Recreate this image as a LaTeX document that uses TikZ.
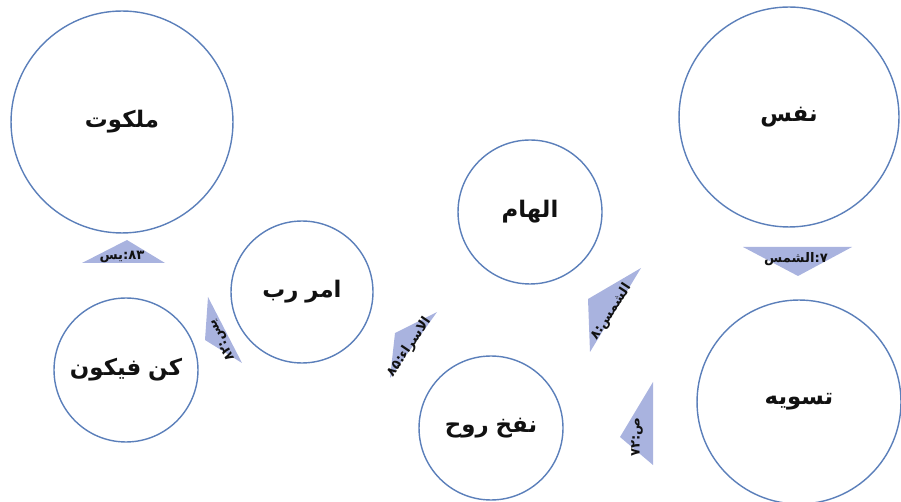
\documentclass[tikz,border=0pt]{standalone}
\usepackage{fontspec}
\newfontfamily\arabicfont[Script=Arabic]{DejaVu Sans}
\newfontfamily\digitfont{DejaVu Sans}
\TeXXeTstate=1
\usetikzlibrary{positioning}
\definecolor{ring}{HTML}{5B7FBA}
\definecolor{wedgeblue}{HTML}{A9B3DF}
\definecolor{textdark}{HTML}{111111}
\newcommand{\farsi}[1]{\hbox{\spaceskip=0.3em\relax\beginR #1\endR}}
\newcommand{\num}[1]{\hbox{\digitfont\bfseries #1}}

\begin{document}
\begin{tikzpicture}[x=0.02cm, y=-0.02cm,
    bubble/.style={circle, draw=ring, line width=0.8pt, minimum size=#1, inner sep=0pt,
      text=textdark, font=\arabicfont\bfseries\fontsize{13}{15}\selectfont},
    wedge/.style={fill=wedgeblue},
    tag/.style={inner sep=0pt, text=textdark, font=\arabicfont\bfseries\fontsize{7.5}{9}\selectfont}]
  \useasboundingbox (0,0) rectangle (901,502);
  % circles
  \node[bubble=4.44cm] (malakut) at (122,122) {\farsi{ملکوت}};
  \node[bubble=4.40cm] (nafs) at (789,117) {\farsi{نفس}};
  \node[bubble=2.88cm] (elham) at (530,212) {\farsi{الهام}};
  \node[bubble=2.84cm] (amr) at (302,292) {\farsi{امر رب}};
  \node[bubble=2.88cm] (kon) at (126,370) {\farsi{کن فیکون}};
  \node[bubble=2.88cm] (nafkh) at (491,428) {\farsi{نفخ روح}};
  \node[bubble=4.08cm] (taswiye) at (799,402) {\farsi{تسویه}};
  % wedges
  \fill[wedge] (82,263) -- (165,263) -- (127,240) -- cycle;
  \fill[wedge] (208,297) -- (205,340) -- (242,363) -- cycle;
  \fill[wedge] (437,312) -- (395,333) -- (390,378) -- cycle;
  \fill[wedge] (641,268) -- (588,299) -- (590,352) -- cycle;
  \fill[wedge] (743,247) -- (852,247) -- (798,276) -- cycle;
  \fill[wedge] (653,382) -- (653,465) -- (620,437) -- cycle;
  % verse labels
  \node[tag] (yasin83) at (122,257) {\farsi{یس}\num{:۸۳}};
  \node[tag, rotate=117] (yasin82) at (222,340) {\num{۸۲:}\farsi{یس}};
  \node[tag, rotate=56] (isra85) at (409,347) {\num{۸۵:}\farsi{الاسراء}};
  \node[tag, rotate=57] (shams8) at (611,312) {\num{۸:}\farsi{الشمس}};
  \node[tag] (shams7) at (796,259) {\farsi{الشمس}\num{:۷}};
  \node[tag, rotate=90] (sad72) at (637,437) {\num{۷۲:}\farsi{ص}};
\end{tikzpicture}
\end{document}
